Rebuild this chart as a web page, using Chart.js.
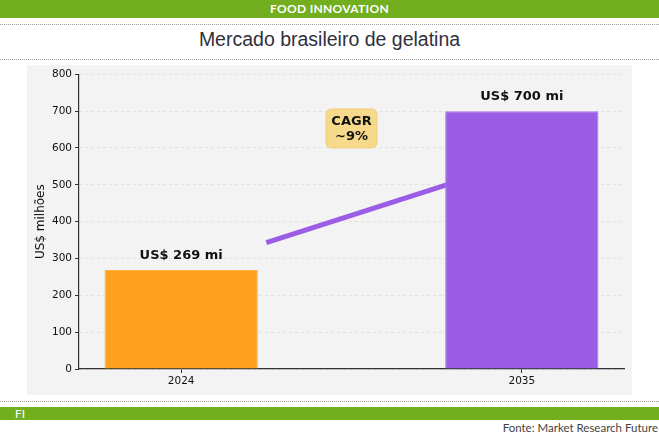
<!DOCTYPE html>
<html>
<head>
<meta charset="utf-8">
<script src="https://cdn.jsdelivr.net/npm/chart.js@4"></script>
<style>
    html, body { margin: 0; padding: 0; background: #fff; }
    body { width: 659px; height: 436px; position: relative; overflow: hidden; font-family: 'Liberation Sans', Arial, sans-serif; }
    .top-bar { position: absolute; left: 0; top: 0; width: 659px; height: 18px; background: #72ae1e; color: #fff; font: bold 12px Lato, sans-serif; text-align: center; line-height: 18px; letter-spacing: 0.3px; }
    .dots { position: absolute; left: 0; width: 659px; border-top: 1px dotted #9a9a9a; }
    .title { position: absolute; left: 0; top: 28px; width: 659px; text-align: center; font-size: 19.5px; color: #30303c; }
    .panel { position: absolute; left: 27px; top: 65px; width: 605px; height: 330px; background: #f3f3f3; }
    .bottom-bar { position: absolute; left: 0; top: 407px; width: 659px; height: 13px; background: #72ae1e; color: #fff; font: 12px Lato, sans-serif; line-height: 13px; }
    .bottom-bar span { margin-left: 15px; }
    .source { position: absolute; right: 1px; top: 421px; font: 11.5px Lato, sans-serif; color: #444; }
</style>
</head>
<body>
<div class="top-bar">FOOD INNOVATION</div>
<div class="dots" style="top:24px"></div>
<div class="title">Mercado brasileiro de gelatina</div>
<div class="dots" style="top:59px"></div>
<div class="panel"><canvas id="gelatin-chart" width="605" height="330"></canvas></div>
<div class="dots" style="top:401px"></div>
<div class="bottom-bar"><span>FI</span></div>
<div class="source">Fonte: Market Research Future</div>

<script>
const years = ['2024', '2035'];
const values = [269, 700];
const barLabels = ['US$ 269 mi', 'US$ 700 mi'];
const barColors = ['#ffa01f', '#9b5de5'];
const yTicks = [0, 100, 200, 300, 400, 500, 600, 700, 800];

// trend arrow (x in category units, y in US$ milhões)
const trendX = [0.25, 0.85];
const trendY = [343, 521];

// CAGR note
const cagrLines = ['CAGR', '~9%'];
const cagrPos = { x: 0.5, y: 653 };

const barData = years.map((y, i) => ({ x: i, y: values[i] }));
const trendData = trendX.map((x, i) => ({ x, y: trendY[i] }));

const annotationsPlugin = {
    id: 'annotations',
    afterDatasetsDraw(chart) {
        const ctx = chart.ctx;
        const xScale = chart.scales.x;
        const yScale = chart.scales.y;
        ctx.save();
        ctx.fillStyle = '#111';
        ctx.font = 'bold 13px "DejaVu Sans"';
        ctx.textAlign = 'center';
        ctx.textBaseline = 'bottom';
        barData.forEach((p, i) => {
            ctx.fillText(barLabels[i], xScale.getPixelForValue(p.x), yScale.getPixelForValue(p.y) - 8);
        });

        // CAGR box
        const cx = xScale.getPixelForValue(cagrPos.x);
        const cy = yScale.getPixelForValue(cagrPos.y);
        const w = 51, h = 39;
        ctx.beginPath();
        ctx.roundRect(cx - w / 2, cy - h / 2, w, h, 5);
        ctx.fillStyle = '#f7d98b';
        ctx.fill();
        ctx.strokeStyle = '#efcf7e';
        ctx.lineWidth = 1;
        ctx.stroke();
        ctx.fillStyle = '#111';
        ctx.textBaseline = 'middle';
        ctx.fillText(cagrLines[0], cx, cy - 7);
        ctx.fillText(cagrLines[1], cx, cy + 8);
        ctx.restore();
    }
};

new Chart(document.getElementById('gelatin-chart'), {
    data: {
        datasets: [
            {
                type: 'bar',
                data: barData,
                backgroundColor: barColors,
                borderColor: ['#ffae40', '#a878e8'],
                borderWidth: 1,
                barPercentage: 0.45,
                categoryPercentage: 1,
                order: 1
            },
            {
                type: 'line',
                data: trendData,
                borderColor: '#9b5de5',
                borderWidth: 5,
                pointRadius: 0,
                fill: false,
                order: 2
            }
        ]
    },
    options: {
        responsive: false,
        animation: false,
        layout: { padding: { top: 9, right: 8, left: 0, bottom: 0 } },
        plugins: { legend: { display: false }, tooltip: { enabled: false } },
        scales: {
            x: {
                type: 'linear',
                min: -0.3,
                max: 1.3,
                offset: false,
                afterBuildTicks(scale) {
                    scale.ticks = years.map((_, i) => ({ value: i }));
                },
                afterFit(scale) { scale.height = 26; },
                ticks: {
                    callback: (v) => years[v],
                    color: '#111',
                    font: { family: 'DejaVu Sans', size: 10.5 },
                    padding: 2
                },
                grid: { offset: false, drawOnChartArea: false, drawTicks: true, tickLength: 4, tickColor: '#333', tickWidth: 1 },
                border: { display: true, color: '#333', width: 1.2 }
            },
            y: {
                min: 0,
                max: 800,
                afterBuildTicks(scale) {
                    scale.ticks = yTicks.map(v => ({ value: v }));
                },
                afterFit(scale) { scale.width = 52; },
                ticks: {
                    color: '#111',
                    font: { family: 'DejaVu Sans', size: 10.5 },
                    padding: 3
                },
                title: {
                    display: true,
                    text: 'US$ milhões',
                    color: '#111',
                    font: { family: 'DejaVu Sans', size: 12 },
                    padding: { top: 7, bottom: 0 }
                },
                grid: { color: '#dcdcdc', lineWidth: 0.8, tickLength: 4, tickColor: '#333', tickWidth: 1, tickBorderDash: [] },
                border: { display: true, color: '#333', width: 1.2, dash: [3, 3] }
            }
        }
    },
    plugins: [annotationsPlugin]
});
</script>
</body>
</html>
